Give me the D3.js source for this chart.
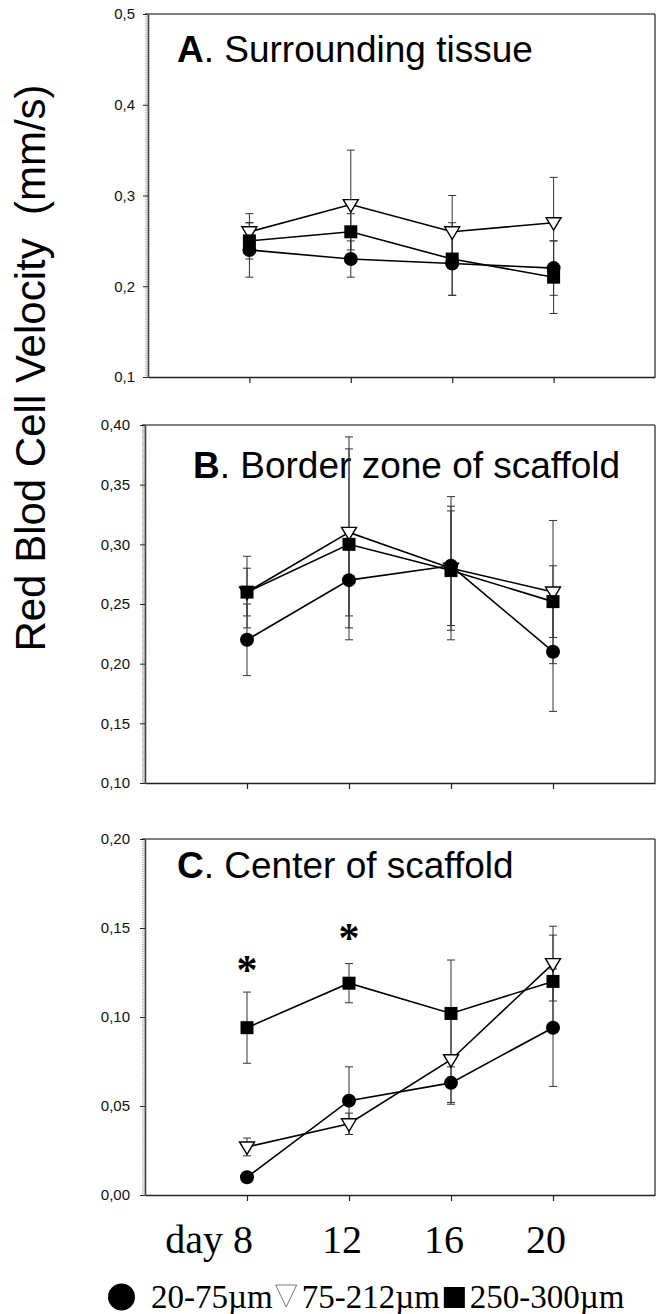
<html>
<head>
<meta charset="utf-8">
<script src="https://d3js.org/d3.v7.min.js"></script>
<style>
body {
	margin: 0;
	background: #fff;
}
svg { display: block; }
</style>
</head>
<body>
<div id="chart"></div>
<script>
	// x categories
	var days = [8, 12, 16, 20];
	var dayLabels = ["day 8", "12", "16", "20"];
	var sizeClasses = ["20-75µm", "75-212µm", "250-300µm"];
	var yTitle = "Red Blod Cell Velocity  (mm/s)";

	// A. Surrounding tissue
	var surr_20_75 = [0.24, 0.23, 0.225, 0.22];
	var surr_20_75_err = [0.03, 0.02, 0.035, 0.03];
	var surr_75_212 = [0.26, 0.29, 0.26, 0.27];
	var surr_75_212_err = [0.02, 0.06, 0.04, 0.05];
	var surr_250_300 = [0.25, 0.26, 0.23, 0.21];
	var surr_250_300_err = [0.02, 0.02, 0.04, 0.04];
	var surrTicks = [0.1, 0.2, 0.3, 0.4, 0.5];
	var surrTickLabels = ["0,1", "0,2", "0,3", "0,4", "0,5"];

	// B. Border zone of scaffold
	var border_20_75 = [0.22, 0.27, 0.282, 0.21];
	var border_20_75_err = [0.03, 0.03, 0.05, 0.05];
	var border_75_212 = [0.26, 0.31, 0.28, 0.26];
	var border_75_212_err = [0.02, 0.08, 0.06, 0.06];
	var border_250_300 = [0.26, 0.30, 0.278, 0.252];
	var border_250_300_err = [0.03, 0.08, 0.05, 0.03];
	var borderTicks = [0.10, 0.15, 0.20, 0.25, 0.30, 0.35, 0.40];
	var borderTickLabels = ["0,10", "0,15", "0,20", "0,25", "0,30", "0,35", "0,40"];

	// C. Center of scaffold
	var center_20_75 = [0.010, 0.053, 0.063, 0.094];
	var center_20_75_err = [0.002, 0.019, 0.012, 0.033];
	var center_75_212 = [0.027, 0.040, 0.076, 0.130];
	var center_75_212_err = [0.005, 0.006, 0.024, 0.021];
	var center_250_300 = [0.094, 0.119, 0.102, 0.120];
	var center_250_300_err = [0.020, 0.011, 0.030, 0.026];
	var centerTicks = [0.00, 0.05, 0.10, 0.15, 0.20];
	var centerTickLabels = ["0,00", "0,05", "0,10", "0,15", "0,20"];

	// significance marks in C
	var starDays = [8, 12];
	var starLevels = [0.129, 0.147];

	var W = 660, H = 1314;
	var sansFont = "'Liberation Sans', Arial, sans-serif";
	var serifFont = "'Liberation Serif', 'Times New Roman', serif";

	var svg = d3.select("#chart").append("svg")
		.attr("width", W)
		.attr("height", H);

	var panels = [
		{ letter: "A", title: ". Surrounding tissue", titleX: 177, titleY: 62,
		  xRange: [148, 655], top: 14, bottom: 377, domain: [0.1, 0.5], minor: 200, pad: 8,
		  ticks: surrTicks, labels: surrTickLabels,
		  means: [surr_75_212, surr_20_75, surr_250_300],
		  errs: [surr_75_212_err, surr_20_75_err, surr_250_300_err] },
		{ letter: "B", title: ". Border zone of scaffold", titleX: 193, titleY: 478,
		  xRange: [145, 655], top: 425, bottom: 783, domain: [0.10, 0.40], minor: 300, pad: 10,
		  ticks: borderTicks, labels: borderTickLabels,
		  means: [border_75_212, border_20_75, border_250_300],
		  errs: [border_75_212_err, border_20_75_err, border_250_300_err] },
		{ letter: "C", title: ". Center of scaffold", titleX: 177, titleY: 878,
		  xRange: [145, 655], top: 839, bottom: 1195, domain: [0, 0.20], minor: 200, pad: 10,
		  ticks: centerTicks, labels: centerTickLabels,
		  means: [center_75_212, center_20_75, center_250_300],
		  errs: [center_75_212_err, center_20_75_err, center_250_300_err] }
	];
	// draw order: triangle, circle, square
	var markerKinds = ["triangle", "circle", "square"];

	panels.forEach(function(p, pi) {
		var x = d3.scaleLinear().domain([4, 24]).range(p.xRange);
		var y = d3.scaleLinear().domain(p.domain).range([p.bottom, p.top]);
		var g = svg.append("g");

		// frame top / right
		g.append("line")
			.attr("x1", p.xRange[0] - 3).attr("x2", p.xRange[1])
			.attr("y1", p.top).attr("y2", p.top)
			.attr("stroke", "#555").attr("stroke-width", 1.5);
		g.append("line")
			.attr("x1", p.xRange[1]).attr("x2", p.xRange[1])
			.attr("y1", p.top).attr("y2", p.bottom)
			.attr("stroke", "#222").attr("stroke-width", 1.2);

		// minor ticks on y
		var minor = g.append("g")
			.attr("transform", "translate(" + p.xRange[0] + ",0)")
			.call(d3.axisLeft(y).tickValues(y.ticks(p.minor)).tickSize(3).tickSizeOuter(0).tickFormat(""));
		minor.select(".domain").remove();
		minor.selectAll("line").attr("stroke", "#999").attr("stroke-width", 0.6);

		// major y axis
		var yAxis = g.append("g")
			.attr("transform", "translate(" + p.xRange[0] + ",0)")
			.call(d3.axisLeft(y).tickValues(p.ticks).tickSize(5).tickSizeOuter(0).tickPadding(p.pad)
				.tickFormat(function(d, i) { return p.labels[i]; }));
		yAxis.select(".domain").attr("stroke", "#444").attr("stroke-width", 1.6);
		yAxis.selectAll("line").attr("stroke", "#222");
		yAxis.selectAll("text")
			.style("font-family", sansFont)
			.style("font-size", "15px")
			.attr("fill", "#111");

		// x axis
		var xAxis = g.append("g")
			.attr("transform", "translate(0," + p.bottom + ")")
			.call(d3.axisBottom(x).tickValues(days).tickSize(6).tickSizeOuter(0).tickFormat(""));
		xAxis.select(".domain").attr("stroke", "#222").attr("stroke-width", 1.6);
		xAxis.selectAll("line").attr("stroke", "#222").attr("stroke-width", 1.2);

		// panel title
		var t = g.append("text")
			.attr("x", p.titleX).attr("y", p.titleY)
			.style("font-family", sansFont)
			.style("font-size", "37px")
			.attr("fill", "#000");
		t.append("tspan").style("font-weight", "bold").text(p.letter);
		t.append("tspan").text(p.title);

		// error bars
		p.means.forEach(function(m, si) {
			var e = p.errs[si];
			var eb = g.append("g").attr("stroke", "#333").attr("stroke-width", 1);
			days.forEach(function(d, di) {
				var xc = x(d), y1 = y(m[di] - e[di]), y2 = y(m[di] + e[di]);
				eb.append("line").attr("x1", xc).attr("x2", xc).attr("y1", y1).attr("y2", y2);
				eb.append("line").attr("x1", xc - 4).attr("x2", xc + 4).attr("y1", y1).attr("y2", y1);
				eb.append("line").attr("x1", xc - 4).attr("x2", xc + 4).attr("y1", y2).attr("y2", y2);
			});
		});

		// lines + markers
		var line = d3.line()
			.x(function(d, i) { return x(days[i]); })
			.y(function(d) { return y(d); });

		p.means.forEach(function(m) {
			g.append("path")
				.datum(m)
				.attr("d", line)
				.attr("fill", "none")
				.attr("stroke", "#000")
				.attr("stroke-width", 1.6);
		});

		p.means.forEach(function(m, si) {
			var kind = markerKinds[si];
			var mk = g.append("g");
			days.forEach(function(d, di) {
				var cx = x(d), cy = y(m[di]);
				if (kind === "circle") {
					mk.append("circle").attr("cx", cx).attr("cy", cy).attr("r", 7).attr("fill", "#000");
				} else if (kind === "square") {
					mk.append("rect").attr("x", cx - 6.5).attr("y", cy - 6.5)
						.attr("width", 13).attr("height", 13).attr("fill", "#000");
				} else {
					mk.append("path")
						.attr("d", "M" + (cx - 7.5) + "," + (cy - 5) + "L" + (cx + 7.5) + "," + (cy - 5) + "L" + cx + "," + (cy + 7.5) + "Z")
						.attr("fill", "#fff").attr("stroke", "#000").attr("stroke-width", 1.4);
				}
			});
		});

		if (pi === 2) {
			// asterisks
			starDays.forEach(function(d, i) {
				g.append("text")
					.attr("x", x(d)).attr("y", y(starLevels[i]) + 19)
					.attr("text-anchor", "middle")
					.style("font-family", serifFont)
					.style("font-weight", "bold")
					.style("font-size", "42px")
					.text("*");
			});
			// x tick labels
			days.forEach(function(d, i) {
				var lbl = g.append("text")
					.attr("y", 1253)
					.style("font-family", serifFont)
					.style("font-size", "40px")
					.attr("fill", "#000");
				if (i === 0) {
					lbl.attr("x", x(d) + 6).attr("text-anchor", "end");
				} else {
					lbl.attr("x", x(d) - 7).attr("text-anchor", "middle");
				}
				lbl.text(dayLabels[i]);
			});
		}
	});

	// y title
	svg.append("text")
		.attr("transform", "translate(45,368) rotate(-90)")
		.attr("text-anchor", "middle")
		.style("font-family", sansFont)
		.style("font-size", "42px")
		.style("white-space", "pre")
		.attr("fill", "#000")
		.text(yTitle);

	// legend
	var legY = 1308;
	var lg = svg.append("g");
	var cursor = 108;
	lg.append("circle").attr("cx", cursor + 13.5).attr("cy", legY - 11).attr("r", 13.5).attr("fill", "#000");
	cursor += 27 + 16;
	function legText(s) {
		var tx = lg.append("text")
			.attr("x", cursor).attr("y", legY)
			.style("font-family", serifFont)
			.style("font-size", "33px")
			.attr("fill", "#000")
			.text(s);
		cursor += tx.node().getComputedTextLength();
	}
	legText(sizeClasses[0]);
	cursor += 3;
	lg.append("path")
		.attr("d", "M" + cursor + "," + (legY - 23) + "L" + (cursor + 21) + "," + (legY - 23) + "L" + (cursor + 10.5) + "," + (legY - 1) + "Z")
		.attr("fill", "#fff").attr("stroke", "#777").attr("stroke-width", 1);
	cursor += 21 + 5;
	legText(sizeClasses[1]);
	cursor += 4;
	lg.append("rect").attr("x", cursor).attr("y", legY - 21).attr("width", 21).attr("height", 21).attr("fill", "#000");
	cursor += 21 + 5;
	legText(sizeClasses[2]);
</script>
</body>
</html>
